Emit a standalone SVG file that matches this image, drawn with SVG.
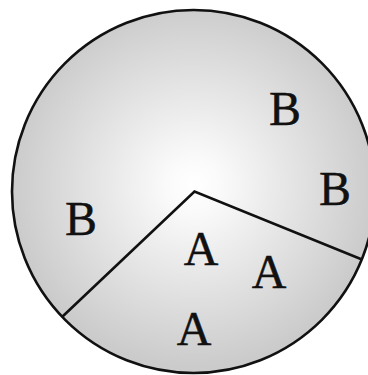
<svg xmlns="http://www.w3.org/2000/svg" width="368" height="375" viewBox="0 0 368 375">
<style>
.lbl{font-family:"Liberation Serif","Times New Roman",serif;font-size:48px;fill:#111111;stroke:#111111;stroke-width:0.4;text-anchor:middle}
.ln{fill:none;stroke:#111111;stroke-width:2.6;stroke-linejoin:miter}
</style>
<defs>
<radialGradient id="g" cx="193.5" cy="185" r="182" gradientUnits="userSpaceOnUse">
<stop offset="0" stop-color="#ffffff"/>
<stop offset="0.15" stop-color="#fafafa"/>
<stop offset="1" stop-color="#cbcbcb"/>
</radialGradient>
</defs>
<g id="disc">
<circle cx="193.5" cy="191.5" r="181.5" fill="url(#g)" stroke="#111111" stroke-width="2.6"/>
</g>
<g id="connectors">
<polyline class="ln" points="62,317 194.5,191.5 362,259.5"/>
</g>
<g id="labels">
<text class="lbl" x="285" y="125">B</text>
<text class="lbl" x="335" y="205">B</text>
<text class="lbl" x="81" y="235">B</text>
<text class="lbl" x="201" y="265">A</text>
<text class="lbl" x="269" y="288">A</text>
<text class="lbl" x="194" y="345">A</text>
</g>
</svg>
